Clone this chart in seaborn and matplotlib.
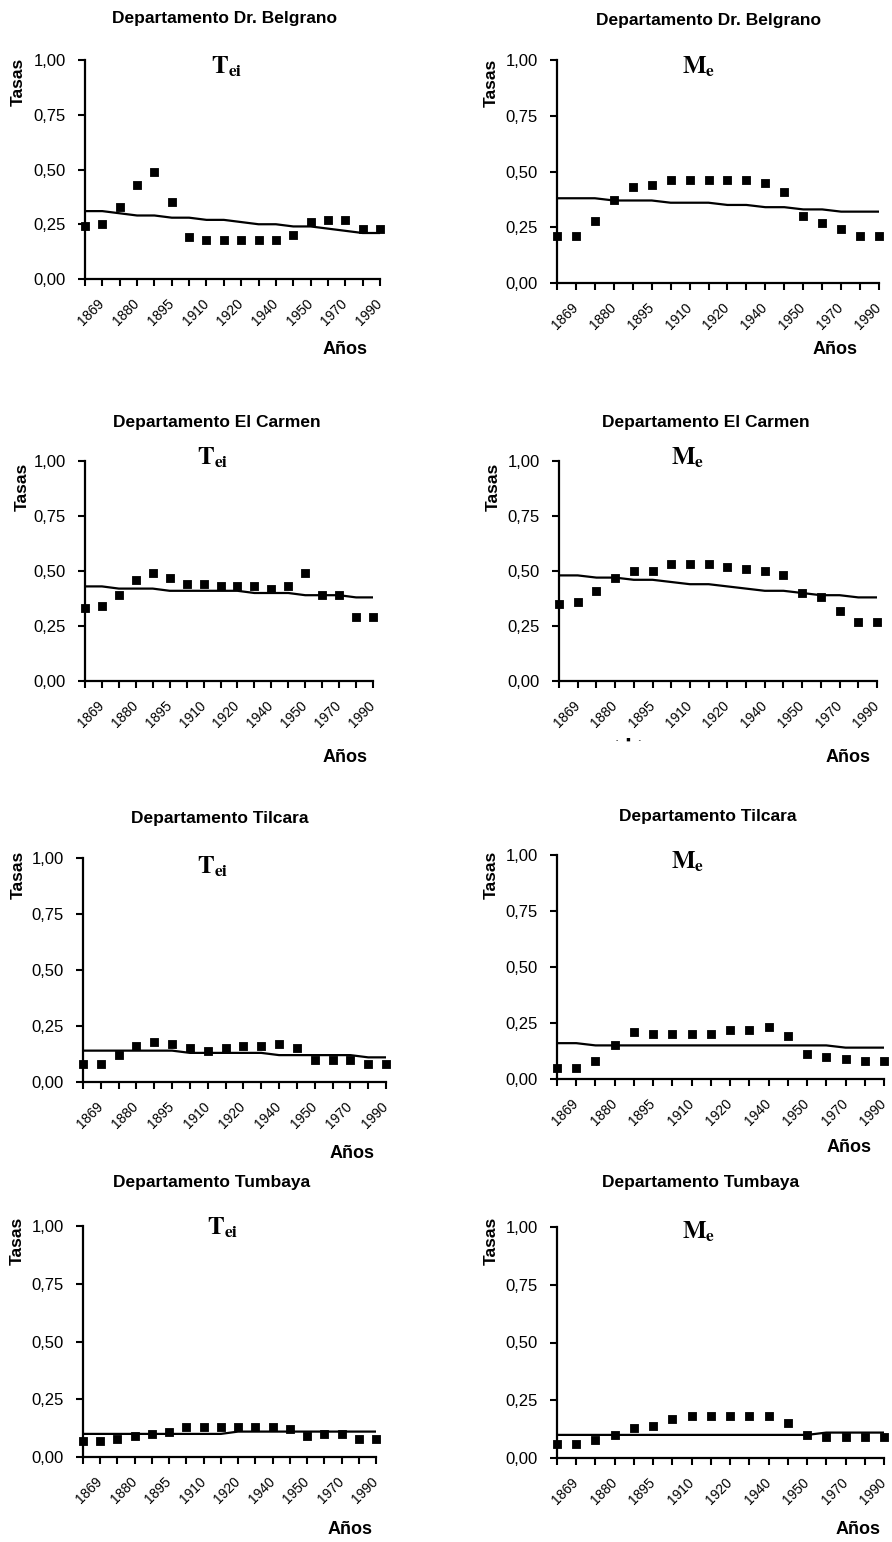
import numpy as np
import pandas as pd
import matplotlib
matplotlib.use('Agg')
import matplotlib.pyplot as plt
import seaborn as sns

year_labels = ['1869', '1880', '1895', '1910', '1920', '1940', '1950', '1970', '1990']
n_obs = 18

belgrano_tei = [0.24, 0.25, 0.33, 0.43, 0.49, 0.35, 0.19, 0.18, 0.18, 0.18, 0.18, 0.18, 0.20, 0.26, 0.27, 0.27, 0.23, 0.23]
belgrano_tei_fit = [0.31, 0.31, 0.30, 0.29, 0.29, 0.28, 0.28, 0.27, 0.27, 0.26, 0.25, 0.25, 0.24, 0.24, 0.23, 0.22, 0.21, 0.21]
belgrano_me = [0.21, 0.21, 0.28, 0.37, 0.43, 0.44, 0.46, 0.46, 0.46, 0.46, 0.46, 0.45, 0.41, 0.30, 0.27, 0.24, 0.21, 0.21]
belgrano_me_fit = [0.38, 0.38, 0.38, 0.37, 0.37, 0.37, 0.36, 0.36, 0.36, 0.35, 0.35, 0.34, 0.34, 0.33, 0.33, 0.32, 0.32, 0.32]

carmen_tei = [0.33, 0.34, 0.39, 0.46, 0.49, 0.47, 0.44, 0.44, 0.43, 0.43, 0.43, 0.42, 0.43, 0.49, 0.39, 0.39, 0.29, 0.29]
carmen_tei_fit = [0.43, 0.43, 0.42, 0.42, 0.42, 0.41, 0.41, 0.41, 0.41, 0.41, 0.40, 0.40, 0.40, 0.39, 0.39, 0.39, 0.38, 0.38]
carmen_me = [0.35, 0.36, 0.41, 0.47, 0.50, 0.50, 0.53, 0.53, 0.53, 0.52, 0.51, 0.50, 0.48, 0.40, 0.38, 0.32, 0.27, 0.27]
carmen_me_fit = [0.48, 0.48, 0.47, 0.47, 0.46, 0.46, 0.45, 0.44, 0.44, 0.43, 0.42, 0.41, 0.41, 0.40, 0.39, 0.39, 0.38, 0.38]

tilcara_tei = [0.08, 0.08, 0.12, 0.16, 0.18, 0.17, 0.15, 0.14, 0.15, 0.16, 0.16, 0.17, 0.15, 0.10, 0.10, 0.10, 0.08, 0.08]
tilcara_tei_fit = [0.14, 0.14, 0.14, 0.14, 0.14, 0.14, 0.13, 0.13, 0.13, 0.13, 0.13, 0.12, 0.12, 0.12, 0.12, 0.12, 0.11, 0.11]
tilcara_me = [0.05, 0.05, 0.08, 0.15, 0.21, 0.20, 0.20, 0.20, 0.20, 0.22, 0.22, 0.23, 0.19, 0.11, 0.10, 0.09, 0.08, 0.08]
tilcara_me_fit = [0.16, 0.16, 0.15, 0.15, 0.15, 0.15, 0.15, 0.15, 0.15, 0.15, 0.15, 0.15, 0.15, 0.15, 0.15, 0.14, 0.14, 0.14]

tumbaya_tei = [0.07, 0.07, 0.08, 0.09, 0.10, 0.11, 0.13, 0.13, 0.13, 0.13, 0.13, 0.13, 0.12, 0.09, 0.10, 0.10, 0.08, 0.08]
tumbaya_tei_fit = [0.10, 0.10, 0.10, 0.10, 0.10, 0.10, 0.10, 0.10, 0.10, 0.11, 0.11, 0.11, 0.11, 0.11, 0.11, 0.11, 0.11, 0.11]
tumbaya_me = [0.06, 0.06, 0.08, 0.10, 0.13, 0.14, 0.17, 0.18, 0.18, 0.18, 0.18, 0.18, 0.15, 0.10, 0.09, 0.09, 0.09, 0.09]
tumbaya_me_fit = [0.10, 0.10, 0.10, 0.10, 0.10, 0.10, 0.10, 0.10, 0.10, 0.10, 0.10, 0.10, 0.10, 0.10, 0.11, 0.11, 0.11, 0.11]

y_ticks = [0.0, 0.25, 0.5, 0.75, 1.0]
y_tick_labels = ['0,00', '0,25', '0,50', '0,75', '1,00']

panels = [
    ('Departamento Dr. Belgrano', r'$\mathbf{T}_{\mathbf{ei}}$', belgrano_tei, belgrano_tei_fit),
    ('Departamento Dr. Belgrano', r'$\mathbf{M}_{\mathbf{e}}$', belgrano_me, belgrano_me_fit),
    ('Departamento El Carmen', r'$\mathbf{T}_{\mathbf{ei}}$', carmen_tei, carmen_tei_fit),
    ('Departamento El Carmen', r'$\mathbf{M}_{\mathbf{e}}$', carmen_me, carmen_me_fit),
    ('Departamento Tilcara', r'$\mathbf{T}_{\mathbf{ei}}$', tilcara_tei, tilcara_tei_fit),
    ('Departamento Tilcara', r'$\mathbf{M}_{\mathbf{e}}$', tilcara_me, tilcara_me_fit),
    ('Departamento Tumbaya', r'$\mathbf{T}_{\mathbf{ei}}$', tumbaya_tei, tumbaya_tei_fit),
    ('Departamento Tumbaya', r'$\mathbf{M}_{\mathbf{e}}$', tumbaya_me, tumbaya_me_fit),
]

# layout in pixels: axes box (left, right, top, bottom), title, symbol, Tasas, Años centres
boxes = [(85, 380, 60, 279), (557, 879, 60, 283),
         (85, 373, 461, 681), (559, 877, 461, 681),
         (83, 386, 858, 1082), (557, 884, 855, 1079),
         (83, 376, 1226, 1457), (557, 884, 1227, 1458)]
title_pos = [(225, 18), (709, 20), (217, 422), (706, 422),
             (220, 818), (708, 817), (212, 1183), (701, 1183)]
symbol_pos = [(227, 67), (699, 67), (213, 458), (688, 458),
              (213, 867), (688, 862), (223, 1228), (699, 1232)]
tasas_pos = [(18, 82), (491, 83), (22, 487), (493, 487),
             (18, 875), (491, 875), (17, 1241), (491, 1241)]
anos_pos = [(345, 350), (835, 350), (345, 757), (848, 758),
            (352, 1153), (849, 1148), (350, 1530), (858, 1530)]

W, H = 892, 1542

sns.set_style('ticks')
plt.rcParams['font.family'] = ['Liberation Sans', 'DejaVu Sans']
plt.rcParams['mathtext.fontset'] = 'stix'
plt.rcParams['text.color'] = 'black'
plt.rcParams['xtick.color'] = 'black'
plt.rcParams['ytick.color'] = 'black'

fig = plt.figure(figsize=(W / 100, H / 100), dpi=100)
fig.patch.set_facecolor('white')


def fx(px):
    return px / W


def fy(py):
    return 1 - py / H


tick_text = [''] * n_obs
tick_text[1::2] = year_labels

for i, (title, symbol, pts, fit) in enumerate(panels):
    l, r, t, b = boxes[i]
    ax = fig.add_axes([fx(l), fy(b), (r - l) / W, (b - t) / H])
    df = pd.DataFrame({'obs': np.arange(n_obs), 'tasa': pts, 'ajuste': fit})

    sns.lineplot(data=df, x='obs', y='ajuste', color='black', linewidth=1.6, ax=ax)
    sns.scatterplot(data=df, x='obs', y='tasa', marker='s', s=30, color='black',
                    edgecolor='black', linewidth=0.6, clip_on=False, zorder=3, ax=ax)

    ax.set_xlim(0, n_obs - 1)
    ax.set_ylim(0, 1)
    ax.set_yticks(y_ticks)
    ax.set_yticklabels(y_tick_labels, fontsize=12)
    ax.set_xticks(range(n_obs))
    ax.set_xticklabels(tick_text, rotation=45, ha='right', va='center',
                       rotation_mode='anchor', fontsize=10)
    ax.set_xlabel('')
    ax.set_ylabel('')
    ax.tick_params(axis='both', direction='out', length=5, width=1.5, color='black')
    ax.tick_params(axis='y', pad=9)
    ax.tick_params(axis='x', pad=11)
    for side in ['top', 'right']:
        ax.spines[side].set_visible(False)
    for side in ['left', 'bottom']:
        ax.spines[side].set_linewidth(1.6)
        ax.spines[side].set_color('black')
    ax.set_facecolor('white')

    fig.text(fx(title_pos[i][0]), fy(title_pos[i][1]), title, ha='center', va='center',
             fontsize=12.5, fontweight='bold')
    fig.text(fx(symbol_pos[i][0]), fy(symbol_pos[i][1]), symbol, ha='center', va='center',
             fontsize=18)
    fig.text(fx(tasas_pos[i][0]), fy(tasas_pos[i][1]), 'Tasas', ha='center', va='center',
             rotation=90, fontsize=12.5, fontweight='bold')
    fig.text(fx(anos_pos[i][0]), fy(anos_pos[i][1]), 'Años', ha='center', va='center',
             fontsize=13, fontweight='bold')

# stray legend remnant under the El Carmen M_e panel
fig.text(fx(628), fy(740), '-    ■    -', ha='center', va='center', fontsize=5)

plt.savefig('out.png', dpi=100, facecolor='white')
